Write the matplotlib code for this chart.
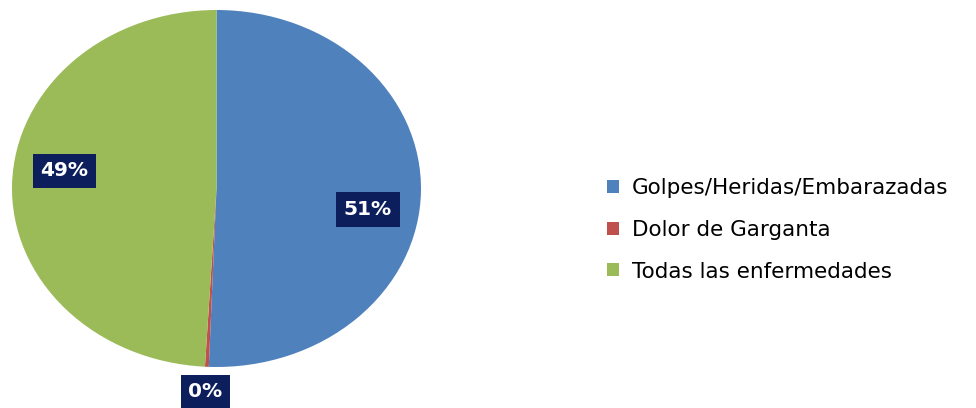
import numpy as np
import matplotlib
matplotlib.use('Agg')
import matplotlib.pyplot as plt
from matplotlib.patches import Patch

categories = ['Golpes/Heridas/Embarazadas', 'Dolor de Garganta', 'Todas las enfermedades']
shares = [50.6, 0.3, 49.1]
colors = ['#4F81BD', '#C0504D', '#9BBB59']

# where each percentage box sits: distance from centre and angular nudge (deg)
label_radius = [0.75, 1.14, 0.75]
label_shift = [-8, 0, -6]

fig = plt.figure(figsize=(9.76, 4.08), dpi=100)
ax = fig.add_axes([12 / 976, 41 / 408, 409 / 976, 357 / 408])

wedges, texts, autotexts = ax.pie(
    shares, colors=colors, startangle=90, counterclock=False,
    autopct='%1.0f%%', wedgeprops=dict(linewidth=0),
    textprops=dict(color='white', fontsize=14.5, fontweight='bold', family='DejaVu Sans'))
ax.set_aspect('auto')
ax.set_xlim(-1, 1)
ax.set_ylim(-1, 1)

for w, t, r, d in zip(wedges, autotexts, label_radius, label_shift):
    ang = np.deg2rad((w.theta1 + w.theta2) / 2 + d)
    t.set_position((r * np.cos(ang), r * np.sin(ang)))
    t.set_clip_on(False)
    t.set_bbox(dict(boxstyle='square,pad=0.38', fc='#0C1F5C', ec='none'))

handles = [Patch(facecolor=c, edgecolor='none') for c in colors]
fig.legend(handles, categories, loc='center left', bbox_to_anchor=(592 / 976, 1 - 230 / 408),
           frameon=False, prop=dict(family='DejaVu Sans', size=15.5),
           handlelength=0.56, handleheight=0.56, handletextpad=0.58, labelspacing=1.0,
           borderpad=0.2)

fig.savefig('out.png', dpi=100)
